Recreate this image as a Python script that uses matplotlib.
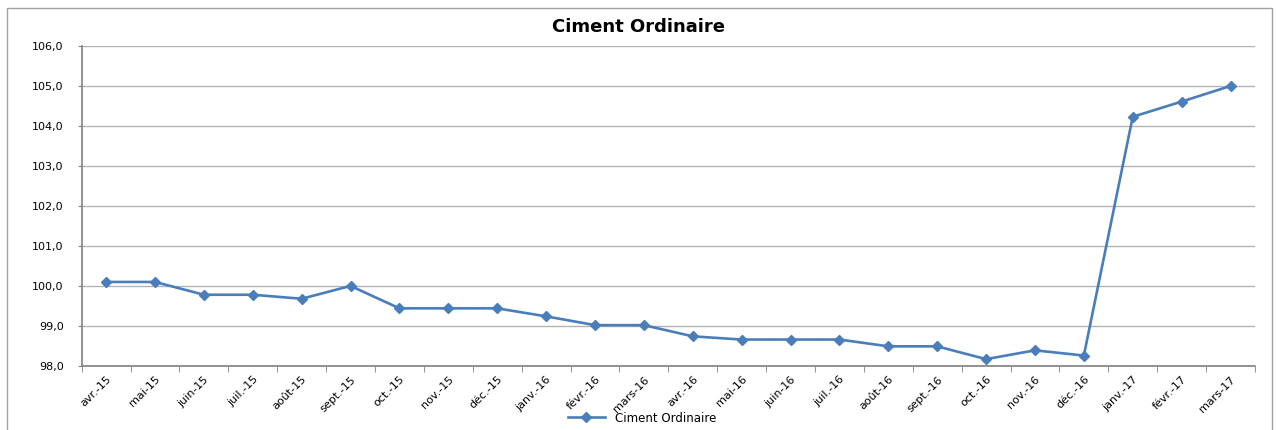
import numpy as np
import matplotlib
matplotlib.use('Agg')
import matplotlib.pyplot as plt
from matplotlib.patches import Rectangle

months = ['avr.-15', 'mai-15', 'juin-15', 'juil.-15', 'août-15', 'sept.-15',
          'oct.-15', 'nov.-15', 'déc.-15', 'janv.-16', 'févr.-16', 'mars-16',
          'avr.-16', 'mai-16', 'juin-16', 'juil.-16', 'août-16', 'sept.-16',
          'oct.-16', 'nov.-16', 'déc.-16', 'janv.-17', 'févr.-17', 'mars-17']
values = [100.1, 100.1, 99.78, 99.78, 99.68, 100.0,
          99.44, 99.44, 99.44, 99.24, 99.02, 99.02,
          98.74, 98.66, 98.66, 98.66, 98.49, 98.49,
          98.17, 98.39, 98.26, 104.23, 104.61, 105.0]
yticks = [98, 99, 100, 101, 102, 103, 104, 105, 106]

plt.rcParams['font.family'] = ['DejaVu Sans']

fig = plt.figure(figsize=(12.76, 4.30), dpi=100)
ax = fig.add_axes([0.064, 0.149, 0.9195, 0.744])

x = np.arange(len(months))
ax.plot(x, values, color='#4a7ebb', lw=1.9, marker='D', ms=5,
        label='Ciment Ordinaire', zorder=3)

ax.set_xlim(-0.5, len(months) - 0.5)
ax.set_ylim(98, 106)
ax.set_yticks(yticks)
ax.set_yticklabels([('%.1f' % v).replace('.', ',') for v in yticks], fontsize=8)
ax.set_xticks(x)
ax.set_xticklabels(months, rotation=45, ha='right', rotation_mode='anchor', fontsize=8)
ax.set_xticks(np.arange(len(months) + 1) - 0.5, minor=True)
ax.tick_params(axis='x', which='major', length=0, pad=6)
ax.tick_params(axis='x', which='minor', length=4, color='#808080', direction='out')
ax.tick_params(axis='y', length=3, color='#808080', pad=10)

ax.grid(axis='y', color='#b3b3b3', lw=1)
ax.set_axisbelow(True)
for s in ['top', 'right']:
    ax.spines[s].set_visible(False)
ax.spines['left'].set_color('#808080')
ax.spines['bottom'].set_color('#808080')
ax.spines['left'].set_linewidth(1.2)
ax.spines['bottom'].set_linewidth(1.2)

fig.text(0.5, 0.937, 'Ciment Ordinaire', ha='center', va='center',
         fontsize=13, fontweight='bold')
fig.legend(loc='lower center', bbox_to_anchor=(0.503, -0.012), frameon=False,
           fontsize=8.5, handlelength=3.2)

# outer chart frame, open at the bottom edge of the picture
fig.patches.append(Rectangle((7 / 1276, -10 / 430), 1265 / 1276, 432 / 430,
                             transform=fig.transFigure, fill=False,
                             edgecolor='#a0a0a0', lw=1))

fig.savefig('out.png', dpi=100)
